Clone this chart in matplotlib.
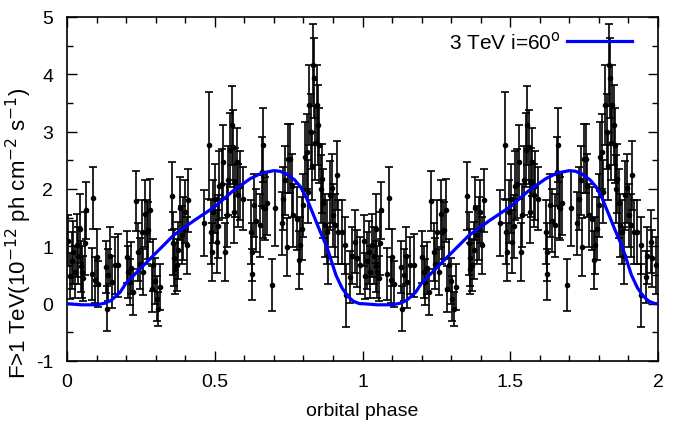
import numpy as np
import matplotlib
matplotlib.use("Agg")
import matplotlib.pyplot as plt
from matplotlib.ticker import MultipleLocator

plt.rcParams['font.family'] = ['Liberation Sans', 'DejaVu Sans']

# one orbit of data (phase, flux, error) - repeated for the second orbit
phase = [0.004, 0.010, 0.016, 0.021, 0.027, 0.033, 0.038, 0.044, 0.047, 0.050,
         0.055, 0.060, 0.064, 0.083, 0.089, 0.095, 0.100, 0.106,
         0.131, 0.134, 0.140, 0.146, 0.151, 0.162, 0.174,
         0.202, 0.208, 0.213, 0.218, 0.224, 0.233, 0.241, 0.247, 0.253, 0.258,
         0.264, 0.270, 0.275, 0.281, 0.287, 0.292, 0.298, 0.303, 0.309, 0.315,
         0.354, 0.360, 0.363, 0.365, 0.371, 0.377, 0.382, 0.388, 0.394, 0.399,
         0.405, 0.411,
         0.465, 0.482, 0.486, 0.490, 0.495, 0.501, 0.507, 0.512, 0.516, 0.523,
         0.529, 0.535, 0.540, 0.546, 0.552, 0.557, 0.563, 0.566, 0.569, 0.574,
         0.580, 0.585, 0.595,
         0.622, 0.625, 0.626, 0.633, 0.640, 0.653, 0.659, 0.662, 0.664, 0.670,
         0.676, 0.693, 0.704,
         0.727, 0.732, 0.738, 0.743, 0.749, 0.755, 0.760, 0.766, 0.777, 0.785,
         0.788, 0.794, 0.800, 0.805, 0.811, 0.815, 0.820, 0.826, 0.830, 0.834,
         0.836, 0.840, 0.845, 0.850, 0.854, 0.858, 0.862, 0.867, 0.873, 0.879,
         0.884, 0.890, 0.896, 0.901, 0.907, 0.913, 0.918, 0.930,
         0.941, 0.944, 0.958, 0.963, 0.975, 0.980, 0.992]
flux = [1.10, 0.49, 0.75, 0.90, 0.55, 1.02, 0.84, 1.31, 0.65, 0.55,
        0.44, 1.05, 1.63, 0.52, 1.85, 0.41, 0.81, 0.35,
        0.64, -0.09, 0.50, 0.84, 0.38, 0.67, 0.67,
        0.81, 0.55, 0.38, 0.62, 0.20, 1.79, 0.90, 0.70, 1.25, 0.55,
        1.57, 1.25, 1.28, 1.63, 0.26, 0.67, 0.40, 0.09, -0.09, 0.29,
        1.88, 1.05, 0.80, 0.61, 0.67, 0.93, 1.66, 1.20, 1.31, 1.60,
        1.02, 1.80,
        1.41, 2.76, 1.25, 0.90, 1.60, 1.83, 1.08, 1.35, 2.06, 2.09,
        2.47, 0.90, 1.54, 2.15, 2.68, 3.11, 2.73, 1.60, 2.12, 2.47,
        1.89, 2.06, 1.83,
        1.25, 0.90, 0.51, 1.72, 1.45, 1.37, 2.30, 2.77, 1.69, 1.66,
        1.75, 0.33, 1.66,
        1.40, 1.83, 2.15, 0.99, 2.53, 2.53, 2.06, 1.54, 1.48, 0.76,
        1.02, 1.31, 1.72, 2.56, 2.65, 1.95, 3.47, 3.00, 2.40, 4.16,
        3.93, 2.80, 3.46, 3.11, 2.76, 2.00, 2.18, 1.75, 1.37, 1.25,
        0.84, 1.89, 2.01, 1.54, 1.37, 2.24, 1.25, 1.25,
        1.02, 0.15, 0.47, 0.84, 1.08, 0.79, 0.67]
err = [0.45, 0.40, 0.50, 0.55, 0.45, 0.55, 0.50, 0.60, 0.45, 0.45,
       0.40, 0.55, 0.50, 0.45, 0.54, 0.40, 0.50, 0.40,
       0.45, 0.39, 0.45, 0.50, 0.45, 0.50, 0.55,
       0.45, 0.45, 0.40, 0.45, 0.40, 0.53, 0.50, 0.45, 0.55, 0.40,
       0.58, 0.55, 0.50, 0.55, 0.40, 0.45, 0.40, 0.40, 0.30, 0.40,
       0.59, 0.55, 0.50, 0.45, 0.45, 0.50, 0.55, 0.50, 0.55, 0.55,
       0.50, 0.55,
       0.58, 0.93, 0.55, 0.50, 0.55, 0.60, 0.55, 0.55, 0.60, 0.60,
       0.65, 0.50, 0.55, 0.60, 0.65, 0.69, 0.65, 0.55, 0.60, 0.60,
       0.55, 0.60, 0.55,
       0.55, 0.50, 0.45, 0.55, 0.55, 0.55, 0.60, 0.65, 0.55, 0.55,
       0.55, 0.45, 0.65,
       0.55, 0.55, 0.60, 0.50, 0.60, 0.60, 0.55, 0.55, 0.55, 0.50,
       0.50, 0.55, 0.55, 0.60, 0.65, 0.55, 0.70, 0.65, 0.60, 0.71,
       0.70, 0.65, 0.70, 0.70, 0.65, 0.60, 0.60, 0.60, 0.55, 0.55,
       0.50, 0.60, 0.60, 0.55, 0.55, 0.60, 0.55, 0.55,
       0.50, 0.55, 0.45, 0.50, 0.55, 0.50, 0.50]

# model curve, one orbit
model_phase = [0.00, 0.05, 0.10, 0.13, 0.15, 0.18, 0.20, 0.25, 0.30, 0.36,
               0.43, 0.50, 0.56, 0.62, 0.66, 0.70, 0.72, 0.74, 0.77, 0.79,
               0.81, 0.83, 0.855, 0.88, 0.91, 0.93, 0.95, 0.97, 0.99, 1.00]
model_flux = [0.00, -0.02, -0.02, 0.01, 0.06, 0.20, 0.36, 0.62, 0.88, 1.19,
              1.45, 1.69, 1.96, 2.18, 2.28, 2.32, 2.31, 2.27, 2.16, 2.04,
              1.85, 1.60, 1.28, 0.98, 0.50, 0.28, 0.13, 0.04, 0.00, 0.00]

ph = np.concatenate([phase, np.array(phase) + 1])
fl = np.concatenate([flux, flux])
er = np.concatenate([err, err])
mph = np.concatenate([model_phase, np.array(model_phase[1:]) + 1])
mfl = np.concatenate([model_flux, model_flux[1:]])

fig = plt.figure(figsize=(6.81, 4.31), dpi=100)
ax = fig.add_axes([67 / 681, 69 / 431, 591 / 681, 344 / 431])

ax.errorbar(ph, fl, yerr=er, fmt='o', color='black', markersize=3,
            elinewidth=1.2, capsize=3, capthick=1.2, zorder=2)
ax.plot(mph, mfl, color='#0000ff', lw=2.3, label='3 TeV i=60$^{\\rm o}$', zorder=3)

ax.set_xlim(0, 2)
ax.set_ylim(-1, 5)
ax.xaxis.set_major_locator(MultipleLocator(0.5))
ax.xaxis.set_minor_locator(MultipleLocator(0.1))
ax.yaxis.set_major_locator(MultipleLocator(1))
ax.yaxis.set_minor_locator(MultipleLocator(0.5))
ax.xaxis.set_major_formatter(plt.FuncFormatter(lambda v, p: f'{v:g}'))
ax.yaxis.set_major_formatter(plt.FuncFormatter(lambda v, p: f'{v:g}'.replace('\u2212', '-')))
ax.tick_params(which='both', direction='in', top=True, right=True, labelsize=14,
               width=1.0)
ax.tick_params(which='major', length=7)
ax.tick_params(axis='x', which='major', pad=9)
ax.tick_params(axis='y', which='major', pad=10)
ax.tick_params(which='minor', length=4)
for s in ax.spines.values():
    s.set_linewidth(1.2)

ax.set_xlabel('orbital phase', fontsize=14)
ax.xaxis.set_label_coords(0.5, -0.12)
ax.set_ylabel('F>1 TeV(10$^{-12}$ ph cm$^{-2}$ s$^{-1}$)', fontsize=16)
ax.yaxis.set_label_coords(-0.056, 0.375)

ax.legend(loc='upper right', frameon=False, markerfirst=False, fontsize=15,
          handlelength=3.1, handletextpad=0.3, borderaxespad=0, borderpad=0,
          bbox_to_anchor=(0.956, 0.962))

fig.savefig('out.png', dpi=100)
